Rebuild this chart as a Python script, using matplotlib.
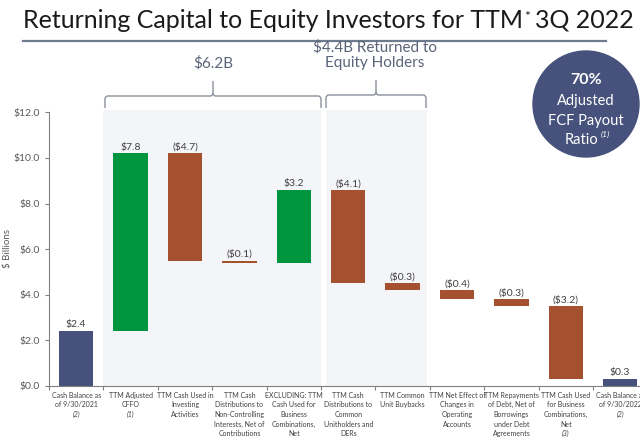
import matplotlib
matplotlib.use("Agg")
import matplotlib.pyplot as plt
from matplotlib.patches import Circle, PathPatch
from matplotlib.path import Path
from matplotlib.lines import Line2D
import numpy as np

plt.rcParams['font.family'] = ['Lato', 'DejaVu Sans']

# data
categories = [
    "Cash Balance as\nof 9/30/2021",
    "TTM Adjusted\nCFFO",
    "TTM Cash Used in\nInvesting\nActivities",
    "TTM Cash\nDistributions to\nNon-Controlling\nInterests, Net of\nContributions",
    "EXCLUDING: TTM\nCash Used for\nBusiness\nCombinations,\nNet",
    "TTM Cash\nDistributions to\nCommon\nUnitholders and\nDERs",
    "TTM Common\nUnit Buybacks",
    "TTM Net Effect of\nChanges in\nOperating\nAccounts",
    "TTM Repayments\nof Debt, Net of\nBorrowings\nunder Debt\nAgreements",
    "TTM Cash Used\nfor Business\nCombinations,\nNet",
    "Cash Balance as\nof 9/30/2022",
]
footnotes = ["(2)", "(1)", "", "", "", "", "", "", "", "(3)", "(2)"]
values = [2.4, 7.8, -4.7, -0.1, 3.2, -4.1, -0.3, -0.4, -0.3, -3.2, 0.3]
is_total = [True, False, False, False, False, False, False, False, False, False, True]
value_labels = ["$2.4", "$7.8", "($4.7)", "($0.1)", "$3.2", "($4.1)", "($0.3)",
                "($0.4)", "($0.3)", "($3.2)", "$0.3"]
yticks = [0, 2, 4, 6, 8, 10, 12]

NAVY = '#46527C'
GREEN = '#00963F'
BROWN = '#A5512F'
GRAY = '#595959'

W, H = 640, 437
fig = plt.figure(figsize=(6.4, 4.37), dpi=100)

# main axes: left at 49px, bottom at 386px, 54.4px per category
cat_w = 54.4
ax_left, ax_bottom, y_top = 49, 386, 110.1
ax = fig.add_axes([ax_left / W, (H - ax_bottom) / H,
                   len(values) * cat_w / W, (ax_bottom - y_top) / H])

bottoms, heights, colors = [], [], []
running = 0.0
for v, tot in zip(values, is_total):
    if tot:
        bottoms.append(0)
        heights.append(v)
        colors.append(NAVY)
        running = v
    else:
        lo = running if v > 0 else running + v
        bottoms.append(lo)
        heights.append(abs(v))
        colors.append(GREEN if v > 0 else BROWN)
        running += v

x = np.arange(len(values))
ax.axvspan(0.5, 4.5, color='#F4F5F8', zorder=0, lw=0)
ax.axvspan(4.59, 6.44, color='#F4F5F8', zorder=0, lw=0)
ax.bar(x, heights, bottom=bottoms, width=0.63, color=colors, zorder=2)

for xi, b, h, lab in zip(x, bottoms, heights, value_labels):
    ax.text(xi, b + h + 0.08, lab, ha='center', va='bottom', fontsize=7.5,
            color='#404040')

ax.set_xlim(-0.5, len(values) - 0.5)
ax.set_ylim(0, 12.1)
ax.set_yticks(yticks)
ax.set_yticklabels([f"${t:.1f}" for t in yticks], fontsize=7.5, color=GRAY)
ax.set_xticks(np.arange(len(values)) - 0.5)
ax.set_xticklabels([])
ax.tick_params(axis='both', direction='out', length=3, color='#808080', width=0.8)
for s in ['top', 'right']:
    ax.spines[s].set_visible(False)
for s in ['left', 'bottom']:
    ax.spines[s].set_color('#808080')
    ax.spines[s].set_linewidth(0.8)
ax.spines['left'].set_bounds(0, 12)
ax.set_ylabel("$ Billions", fontsize=7, color=GRAY, labelpad=1)
ax.set_facecolor('none')

for xi, lab, fn in zip(x, categories, footnotes):
    ax.annotate(lab, xy=(xi, 0), xycoords=('data', 'axes fraction'),
                xytext=(0, -4), textcoords='offset points', ha='center', va='top',
                fontsize=5, color='#404040', linespacing=1.45, annotation_clip=False)
    if fn:
        n = lab.count('\n') + 1
        ax.annotate(fn, xy=(xi, 0), xycoords=('data', 'axes fraction'),
                    xytext=(0, -4 - n * 6.85), textcoords='offset points',
                    ha='center', va='top', fontsize=5, style='italic',
                    color='#404040', annotation_clip=False)

# overlay in pixel coordinates for title, brackets and circle
ov = fig.add_axes([0, 0, 1, 1])
ov.set_xlim(0, W)
ov.set_ylim(H, 0)
ov.axis('off')
ov.patch.set_visible(False)

# title in three pieces, placed one after the other
renderer = fig.canvas.get_renderer()
t1 = ov.text(23, 20, "Returning Capital to Equity Investors for TTM", fontsize=18,
             ha='left', va='center', color='#1a1a1a')
end1 = t1.get_window_extent(renderer).x1
ov.annotate("*", xy=(end1, H - 20), xycoords='figure pixels', xytext=(1, 3),
            textcoords='offset pixels', fontsize=10, ha='left', va='center',
            color='#1a1a1a')
ov.annotate("3Q 2022", xy=(end1, H - 20), xycoords='figure pixels', xytext=(12, 0),
            textcoords='offset pixels', fontsize=18, ha='left', va='center',
            color='#1a1a1a')
ov.add_line(Line2D([23, 606], [41, 41], color='#6E7B8F', lw=1.6))


def bracket(x0, x1, xc, y, ytip, yend):
    r = 3
    verts = [(x0, yend), (x0, y + r), (x0, y), (x0 + r, y), (xc - r, y), (xc, y),
             (xc, y - r), (xc, ytip), (xc, y - r), (xc, y), (xc + r, y),
             (x1 - r, y), (x1, y), (x1, y + r), (x1, yend)]
    codes = [Path.MOVETO, Path.LINETO, Path.CURVE3, Path.CURVE3, Path.LINETO,
             Path.CURVE3, Path.CURVE3, Path.LINETO, Path.MOVETO, Path.CURVE3,
             Path.CURVE3, Path.LINETO, Path.CURVE3, Path.CURVE3, Path.LINETO]
    ov.add_patch(PathPatch(Path(verts, codes), fill=False, edgecolor='#8A919C', lw=1.0))


bracket(105, 321, 213, 96, 81, 108)
bracket(326, 426, 376, 95, 80, 108)
ov.text(213, 63, "$6.2B", fontsize=11, ha='center', va='center', color='#5A6478')
ov.text(375, 55, "$4.4B Returned to\nEquity Holders", fontsize=11, ha='center',
        va='center', color='#5A6478', linespacing=1.1)

ov.add_patch(Circle((586, 104), 53, color='#46527C'))
ov.text(586, 80, "70%", fontsize=11.5, fontweight='bold', ha='center', va='center',
        color='white')
ov.text(586, 101, "Adjusted", fontsize=10.5, ha='center', va='center', color='white')
ov.text(586, 121, "FCF Payout", fontsize=10.5, ha='center', va='center', color='white')
ov.text(582, 140, "Ratio", fontsize=10.5, ha='center', va='center', color='white')
ov.text(601, 134, "(1)", fontsize=6, style='italic', ha='left', va='center',
        color='white')

fig.savefig("out.png", dpi=100)
plt.close(fig)
